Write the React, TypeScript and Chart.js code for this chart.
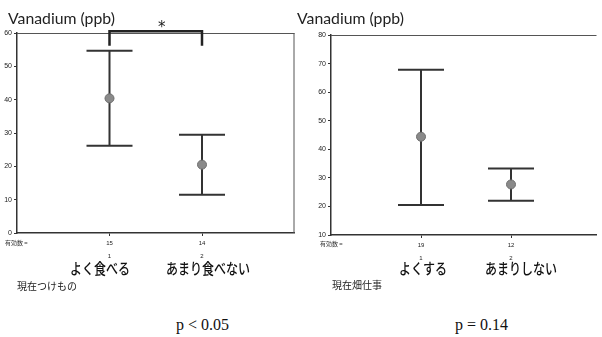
import React, { useEffect, useRef } from "react";
import { Chart, registerables } from "chart.js";

Chart.register(...registerables);

// ---- Data ----
const title = "Vanadium (ppb)";

// Left panel: 現在つけもの
const leftCategories = ["よく食べる", "あまり食べない"];
const leftCodes = ["1", "2"];
const leftN = ["15", "14"];
const leftMeans = [40.4, 20.5];
const leftUpper = [54.7, 29.5];
const leftLower = [26.2, 11.5];
const leftYTicks = { min: 0, max: 60, step: 10 };
const leftGroupTitle = "現在つけもの";
const leftP = "p < 0.05";

// Right panel: 現在畑仕事
const rightCategories = ["よくする", "あまりしない"];
const rightCodes = ["1", "2"];
const rightN = ["19", "12"];
const rightMeans = [44.4, 27.7];
const rightUpper = [67.8, 33.3];
const rightLower = [20.5, 22.0];
const rightYTicks = { min: 10, max: 80, step: 10 };
const rightGroupTitle = "現在畑仕事";
const rightP = "p = 0.14";

const nLabel = "有効数 =";
const sigMark = "*";
const bracketY = 60.5;
const bracketLegY = 56.2;

const TICK_FONT = "'Liberation Sans', 'DejaVu Sans', sans-serif";

const errorBarPlugin = (upper: number[], lower: number[]) => ({
  id: "errorBars",
  beforeDatasetsDraw(chart: any) {
    const ctx = chart.ctx;
    const xs = chart.scales.x;
    const ys = chart.scales.y;
    ctx.save();
    ctx.strokeStyle = "#333";
    ctx.lineWidth = 2;
    upper.forEach((u, i) => {
      const x = xs.getPixelForValue(i + 1);
      const yu = ys.getPixelForValue(u);
      const yl = ys.getPixelForValue(lower[i]);
      ctx.beginPath();
      ctx.moveTo(x, yu);
      ctx.lineTo(x, yl);
      ctx.moveTo(x - 23, yu);
      ctx.lineTo(x + 23, yu);
      ctx.moveTo(x - 23, yl);
      ctx.lineTo(x + 23, yl);
      ctx.stroke();
    });
    ctx.restore();
  },
});

const framePlugin = (drawRight: boolean) => ({
  id: "frame",
  afterDraw(chart: any) {
    const { ctx, chartArea } = chart;
    ctx.save();
    ctx.strokeStyle = "#555";
    ctx.lineWidth = 1;
    ctx.beginPath();
    ctx.moveTo(chartArea.left, chartArea.top + 0.5);
    ctx.lineTo(chartArea.right, chartArea.top + 0.5);
    if (drawRight) {
      ctx.moveTo(chartArea.right - 0.5, chartArea.top);
      ctx.lineTo(chartArea.right - 0.5, chartArea.bottom);
    }
    ctx.stroke();
    ctx.restore();
  },
});

const bracketPlugin = {
  id: "bracket",
  afterDraw(chart: any) {
    const ctx = chart.ctx;
    const xs = chart.scales.x;
    const ys = chart.scales.y;
    const x1 = xs.getPixelForValue(1);
    const x2 = xs.getPixelForValue(2);
    const yt = ys.getPixelForValue(bracketY);
    const yl = ys.getPixelForValue(bracketLegY);
    ctx.save();
    ctx.strokeStyle = "#222";
    ctx.lineWidth = 2.5;
    ctx.beginPath();
    ctx.moveTo(x1, yl);
    ctx.lineTo(x1, yt);
    ctx.lineTo(x2, yt);
    ctx.lineTo(x2, yl);
    ctx.stroke();
    ctx.restore();
  },
};

function makeChart(
  canvas: HTMLCanvasElement,
  opts: {
    means: number[];
    upper: number[];
    lower: number[];
    n: string[];
    codes: string[];
    yr: { min: number; max: number; step: number };
    xMax: number;
    yWidth: number;
    xHeight: number;
    padTop: number;
    padRight: number;
    drawRight: boolean;
    bracket: boolean;
  }
) {
  const plugins: any[] = [errorBarPlugin(opts.upper, opts.lower), framePlugin(opts.drawRight)];
  if (opts.bracket) plugins.push(bracketPlugin);
  return new Chart(canvas, {
    type: "scatter",
    data: {
      datasets: [
        {
          data: opts.means.map((m, i) => ({ x: i + 1, y: m })),
          pointRadius: 4.5,
          pointBackgroundColor: "#8a8a8a",
          pointBorderColor: "#6e6e6e",
          pointBorderWidth: 1,
        },
      ],
    },
    options: {
      animation: false,
      responsive: false,
      layout: { padding: { top: opts.padTop, right: opts.padRight, left: 0, bottom: 0 } },
      plugins: { legend: { display: false }, tooltip: { enabled: false } },
      scales: {
        x: {
          type: "linear",
          min: 0,
          max: opts.xMax,
          afterBuildTicks: (axis: any) => {
            axis.ticks = opts.codes.map((_, i) => ({ value: i + 1 }));
          },
          afterFit: (s: any) => {
            s.height = opts.xHeight;
          },
          ticks: {
            autoSkip: false,
            maxRotation: 0,
            padding: 1,
            color: "#222",
            font: { family: TICK_FONT, size: 6, lineHeight: 2.1 },
            callback: (v: any) => {
              const i = Math.round(Number(v)) - 1;
              return [opts.n[i], opts.codes[i]];
            },
          },
          grid: { display: true, drawOnChartArea: false, drawTicks: true, tickLength: 3, color: "#333" },
          border: { display: true, color: "#333", width: 1.5 },
        },
        y: {
          min: opts.yr.min,
          max: opts.yr.max,
          afterFit: (s: any) => {
            s.width = opts.yWidth;
          },
          ticks: {
            stepSize: opts.yr.step,
            padding: 2,
            color: "#222",
            font: { family: TICK_FONT, size: 7 },
          },
          grid: { display: true, drawOnChartArea: false, drawTicks: true, tickLength: 3, color: "#333" },
          border: { display: true, color: "#333", width: 1.5 },
        },
      },
    },
    plugins,
  } as any);
}

const abs = (s: React.CSSProperties): React.CSSProperties => ({ position: "absolute", whiteSpace: "nowrap", ...s });
const TITLE_FONT = "Lato, 'Noto Sans', sans-serif";
const JP_FONT = "'Noto Sans CJK JP', sans-serif";
const SERIF = "'Liberation Serif', serif";

const catStyle = (left: number): React.CSSProperties =>
  abs({
    left,
    top: 258,
    fontFamily: JP_FONT,
    fontSize: 12,
    fontWeight: 500,
    lineHeight: "16px",
    color: "#111",
    transform: "scaleY(1.25)",
    transformOrigin: "0 0",
  });

export default function App() {
  const leftRef = useRef<HTMLCanvasElement>(null);
  const rightRef = useRef<HTMLCanvasElement>(null);

  useEffect(() => {
    document.body.style.margin = "0";
    const c1 = makeChart(leftRef.current!, {
      means: leftMeans,
      upper: leftUpper,
      lower: leftLower,
      n: leftN,
      codes: leftCodes,
      yr: leftYTicks,
      xMax: 3,
      yWidth: 17,
      xHeight: 67,
      padTop: 33,
      padRight: 2,
      drawRight: true,
      bracket: true,
    });
    const c2 = makeChart(rightRef.current!, {
      means: rightMeans,
      upper: rightUpper,
      lower: rightLower,
      n: rightN,
      codes: rightCodes,
      yr: rightYTicks,
      xMax: 2.95,
      yWidth: 31,
      xHeight: 65,
      padTop: 35,
      padRight: 0,
      drawRight: false,
      bracket: false,
    });
    return () => {
      c1.destroy();
      c2.destroy();
    };
  }, []);

  return (
    <div style={{ position: "absolute", left: 0, top: 0, width: 602, height: 337, overflow: "hidden", background: "#fff" }}>
      <canvas ref={leftRef} width={300} height={300} style={{ position: "absolute", left: 0, top: 0 }} />
      <canvas ref={rightRef} width={302} height={300} style={{ position: "absolute", left: 300, top: 0 }} />

      <div style={abs({ left: 8, top: 9, fontFamily: TITLE_FONT, fontSize: 15.8, lineHeight: "18px", color: "#222" })}>{title}</div>
      <div style={abs({ left: 297, top: 9, fontFamily: TITLE_FONT, fontSize: 15.8, lineHeight: "18px", color: "#222" })}>{title}</div>

      <div style={abs({ left: 158, top: 18, fontFamily: "'DejaVu Sans', sans-serif", fontSize: 15, lineHeight: "18px", color: "#222" })}>{sigMark}</div>

      <div style={abs({ left: 5, top: 239, fontFamily: JP_FONT, fontSize: 6, lineHeight: "8px", color: "#333" })}>{nLabel}</div>
      <div style={abs({ left: 320, top: 240, fontFamily: JP_FONT, fontSize: 6, lineHeight: "8px", color: "#333" })}>{nLabel}</div>

      <div style={catStyle(70)}>{leftCategories[0]}</div>
      <div style={catStyle(166)}>{leftCategories[1]}</div>
      <div style={catStyle(399)}>{rightCategories[0]}</div>
      <div style={catStyle(485)}>{rightCategories[1]}</div>

      <div style={abs({ left: 17, top: 279, fontFamily: JP_FONT, fontSize: 10, lineHeight: "14px", color: "#222" })}>{leftGroupTitle}</div>
      <div style={abs({ left: 332, top: 278, fontFamily: JP_FONT, fontSize: 10, lineHeight: "14px", color: "#222" })}>{rightGroupTitle}</div>

      <div style={abs({ left: 176, top: 316, fontFamily: SERIF, fontSize: 16, lineHeight: "18px", color: "#111" })}>{leftP}</div>
      <div style={abs({ left: 455, top: 316, fontFamily: SERIF, fontSize: 16, lineHeight: "18px", color: "#111" })}>{rightP}</div>
    </div>
  );
}
